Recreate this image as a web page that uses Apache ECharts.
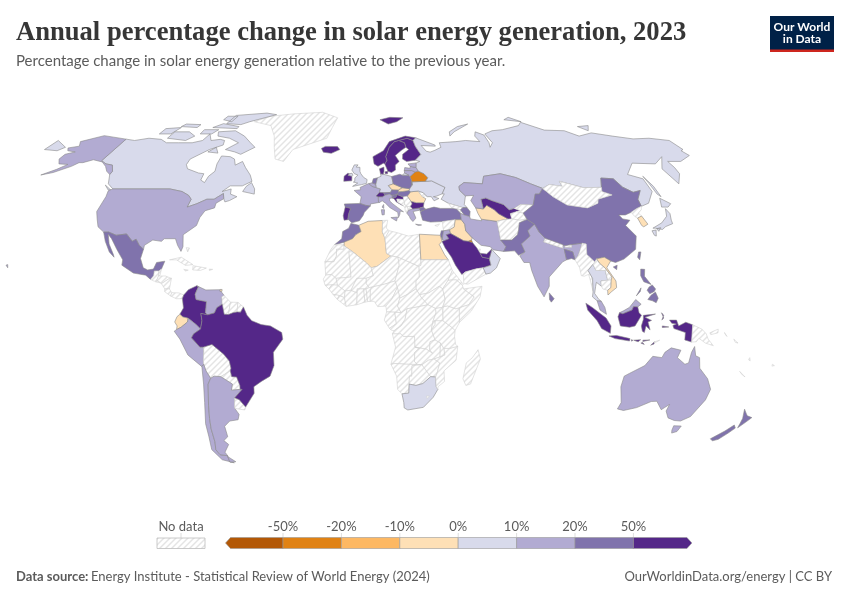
<!DOCTYPE html>
<html><head><meta charset="utf-8">
<script src="https://cdn.jsdelivr.net/npm/echarts@6/dist/echarts.min.js"></script>
<style>html,body{margin:0;padding:0;background:#fff}#c{width:850px;height:600px}</style></head>
<body><div id="c"></div>
<script>
const titleText = "Annual percentage change in solar energy generation, 2023";
const subtitleText = "Percentage change in solar energy generation relative to the previous year.";
const sourceLabel = "Data source:";
const sourceText = "Energy Institute - Statistical Review of World Energy (2024)";
const creditText = "OurWorldinData.org/energy | CC BY";
const binLimits = [-50,-20,-10,0,10,20,50];
const binLabels = ["-50%","-20%","-10%","0%","10%","20%","50%"];
const binColors = ["#b35806","#e08214","#fdb863","#fee0b6","#d8daeb","#b2abd2","#8073ac","#542788"];

// each value only needs to fall in the right bin
const deepPurple = ["Colombia","Brazil","Iceland","Norway","Sweden","Finland","Denmark","Ireland","Portugal","Switzerland","Croatia","Bulgaria","Saudi Arabia","United Arab Emirates","Uzbekistan","Indonesia"];
const deepPurpleValues = [62,58,60,55,70,64,52,66,54,58,60,75,90,55,120,68];
const midPurple = ["Mexico","Spain","Poland","Austria","Slovenia","Hungary","Netherlands","Turkey","Morocco","Azerbaijan","Pakistan","Sri Lanka","Bangladesh","Philippines","China","Taiwan","New Zealand","Israel"];
const midPurpleValues = [28,26,32,25,24,30,27,36,30,40,35,26,28,33,37,25,34,22];
const lightPurple = ["United States","Venezuela","Peru","Chile","Argentina","France","Belgium","Italy","Greece","Estonia","Latvia","Lithuania","Iran","Kazakhstan","India","Malaysia","Australia","Jordan"];
const lightPurpleValues = [14,15,12,16,18,13,11,15,12,17,14,16,13,19,16,12,15,11];
const palePurple = ["Canada","United Kingdom","Germany","Ukraine","Russia","Oman","Thailand","Japan","South Africa"];
const palePurpleValues = [7,5,4,2,9,6,8,5,3];
const paleOrange = ["Ecuador","Trinidad and Tobago","Czechia","Slovakia","Romania","Algeria","Egypt","Iraq","Turkmenistan","South Korea","Vietnam"];
const paleOrangeValues = [-4,-6,-3,-5,-8,-7,-2,-9,-3,-1,-4];
const orange = ["Belarus","Kuwait"];
const orangeValues = [-30,-25];

const outlines = {
"Greenland":["-73,78;-60,76;-54,71;-51,66;-48,61;-43,60;-40,65;-22,70;-20,75;-18,80;-30,83.5;-50,82.5;-65,81"],
"Canada":["-141,69.6;-135,69;-128,70;-120,69.5;-115,68;-108,68;-100,68;-95,69;-94,72;-90,69;-85,69.5;-82,69;-81,67;-87,65;-94,61;-94,58.7;-92,57;-85,55.3;-82,55;-82,52.5;-79.5,51.5;-79,54;-77,56;-78,59;-78,62.3;-73,62;-70,61;-68,58.5;-65,60;-62,57.5;-58,54.5;-56,52;-60,50.2;-66,50.2;-69,48;-65,49;-64.5,47;-61,46;-64,44.5;-66,44;-67,45.2;-68,47.2;-70,46;-71.5,45;-75,45;-79,43.3;-83,42;-82.5,45;-84.5,46.5;-88.5,48;-95,49;-123,49;-127,51;-130,54.7;-130,56;-133,58.5;-137,59;-141,60.3",
"-62,66;-68,63;-72,64;-78,65;-73,68;-80,70;-88,71;-90,73;-80,73.5;-72,71;-66,68","-117,70;-105,69;-102,71;-108,73;-117,73","-90,77;-80,76.5;-76,78;-62,82;-70,83;-90,81.5","-125,72;-118,72;-116,75;-125,74.5","-96,75;-80,74.5;-80,75.5;-92,77","-95,79;-88,78;-88,81;-95,81","-117,75.5;-106,75;-106,76.5;-116,76.8","-100,72;-93,72;-91,74;-100,74","-87,64;-81,63.5;-84,66","-59,48;-53,47;-53.5,49;-56,51.5;-58,50","-128,50.5;-123.5,48.5;-125,48.6"],
"United States":["-123,49;-95,49;-88.5,48;-84.5,46.5;-82.5,45;-83,42;-79,43.3;-75,45;-71.5,45;-70,46;-68,47.2;-67,45.2;-70,43.5;-70,41.7;-74,40.6;-75.5,38;-76,35;-81,31.5;-80,27;-80.5,25.2;-82.5,27.5;-84,30;-89,30;-90,29;-94,29.5;-97.2,27.5;-97.2,26;-99.5,27.5;-101.5,29.8;-103,29;-106.5,31.8;-111,31.3;-114.8,32.5;-117.1,32.5;-120.5,34.5;-122.5,37.5;-124.3,40.3;-124,46;-124.7,48.3",
"-141,69.6;-141,60.3;-137,59;-133,58.5;-130,56;-130,54.7;-133,56;-136,58;-140,59.8;-146,60.7;-150,59.5;-152,59.5;-154,58;-160,55.5;-165,54.5;-160,56.8;-157,58.8;-162,59;-165,61;-165,63;-161,64;-166,64.5;-168,65.7;-163,66.5;-166,68.5;-157,71.2;-150,70.5","-156,20;-155,19;-155.3,20.2"],
"Mexico":["-117.1,32.5;-114.8,32.5;-111,31.3;-106.5,31.8;-103,29;-101.5,29.8;-99.5,27.5;-97.2,26;-97.8,22.5;-96,19;-94,18.2;-91.5,18.5;-90.5,21;-87,21.5;-88,18.5;-89,17.8;-91,17.8;-91,16;-92.2,14.6;-94.5,16.2;-100,17;-105.5,20;-105.5,22;-109,26;-112.5,30;-114.7,31.7;-113,28;-110,24;-109.5,23;-112,25;-115,29"],
"Cuba":["-85,22;-80,23;-74.5,20.2;-77.7,19.9;-82,22"],
"Hispaniola":["-74.4,19.8;-68.5,18.9;-71,18;-74.4,18.2"],
"Jamaica":["-78.3,18.4;-76.3,18.1;-77.5,17.8"],
"Puerto Rico":["-67.2,18.5;-65.7,18.4;-67.1,18"],
"Bahamas":["-78.5,26.6;-77,26.5;-77.5,25"],
"Guatemala":["-92.2,14.6;-91,16;-91,17.8;-89,17.8;-88.9,15.9;-89.5,14.3;-90.5,13.9"],
"Belize":["-89,17.8;-88,18.5;-88.3,16.2;-88.9,15.9"],
"Honduras":["-88.9,15.9;-86,15.9;-83.2,15;-84.5,14.7;-87.3,13;-87.8,13.3;-89.5,14.3"],
"El Salvador":["-89.5,14.3;-87.8,13.3;-90.1,13.7"],
"Nicaragua":["-83.2,15;-83.7,11;-85.7,11;-87.3,13;-84.5,14.7"],
"Costa Rica":["-83.7,11;-82.6,9.6;-83,8.3;-85.7,10;-85.7,11"],
"Panama":["-82.6,9.6;-79.5,9.5;-77.4,8.7;-77.9,7.3;-80.5,7.3;-83,8.3"],
"Colombia":["-77.4,8.7;-75.5,10.7;-72,12.2;-71.3,11.8;-72.5,9;-72,7;-67.5,6.2;-67.8,2;-66.9,1.2;-69.8,1.7;-69.3,-1;-70,-4.2;-72,-2.4;-75.2,-0.1;-77.5,0.4;-78.8,1.4;-77.3,3.8;-77.9,7.3"],
"Venezuela":["-71.3,11.8;-72,12.2;-68,10.6;-62,10.7;-60,8.5;-61,8;-60.7,5.2;-63,3.9;-64,1.9;-66.9,1.2;-67.8,2;-67.5,6.2;-72,7;-72.5,9"],
"Trinidad and Tobago":["-61.9,10.1;-61,10.1;-61,10.8;-61.9,10.8"],
"Guyana":["-60,8.5;-57.2,6;-58,1.3;-59.8,1.4;-60.7,5.2;-61,8"],
"Suriname":["-57.2,6;-54,5.9;-54.3,2.3;-56,2;-58,1.3"],
"French Guiana":["-54,5.9;-51.6,4.2;-52.8,2.2;-54.3,2.3"],
"Ecuador":["-78.8,1.4;-77.5,0.4;-75.2,-0.1;-75.5,-1.5;-78.3,-3.5;-80.3,-4.4;-80,-3;-81,-1.5;-80,0.5"],
"Peru":["-80.3,-4.4;-78.3,-3.5;-75.5,-1.5;-75.2,-0.1;-72,-2.4;-70,-4.2;-73,-6;-74,-7.5;-70.6,-11;-69,-11;-69,-12.5;-69.5,-16;-69.5,-17.5;-70.4,-18.4;-76,-14;-79,-8;-81.3,-5"],
"Bolivia":["-69,-11;-65.3,-10;-60.5,-13.7;-58.3,-16.3;-57.8,-19;-58.2,-20;-62.6,-22.2;-65.5,-22;-67.1,-22.8;-68.8,-20;-69.5,-17.5;-69.5,-16;-69,-12.5"],
"Paraguay":["-58.2,-20;-57.8,-22.2;-55.7,-22.3;-54.6,-25.5;-54.7,-27;-58.6,-27.3;-57.8,-25;-62.6,-22.2"],
"Chile":["-70.4,-18.4;-69.5,-17.5;-68.8,-20;-67.1,-22.8;-68.5,-25;-70,-33;-71,-38;-71.7,-42;-72,-47;-73,-50;-72,-52;-68.4,-52.4;-68.6,-54.9;-66.5,-55.2;-72,-54;-75,-50;-74,-45;-73.5,-40;-71.5,-32;-70.5,-25"],
"Argentina":["-67.1,-22.8;-65.5,-22;-62.6,-22.2;-57.8,-25;-58.6,-27.3;-54.7,-27;-53.8,-27;-57.6,-30.2;-58.4,-33.5;-58.4,-34.2;-57,-36.5;-58,-38.5;-62,-39;-65,-41;-65,-45;-67.5,-46.5;-65.8,-48;-69,-51;-68.4,-52.4;-72,-52;-73,-50;-72,-47;-71.7,-42;-71,-38;-70,-33;-68.5,-25","-68.6,-52.7;-68.6,-54.9;-65.5,-54.8"],
"Uruguay":["-57.6,-30.2;-58.4,-33.5;-58.4,-34.2;-54,-34.8;-53.4,-33.7;-55.7,-30.9"],
"Brazil":["-60.7,5.2;-59.8,1.4;-58,1.3;-56,2;-54.3,2.3;-52.8,2.2;-51.6,4.2;-50,1;-48,-1;-44,-2.5;-40,-3;-35.2,-5.5;-34.8,-8;-39,-13;-39,-18;-41,-22;-45,-24;-48.5,-26;-48.7,-28.5;-53.4,-33.7;-55.7,-30.9;-57.6,-30.2;-53.8,-27;-54.7,-27;-54.6,-25.5;-55.7,-22.3;-57.8,-22.2;-58.2,-20;-57.8,-19;-58.3,-16.3;-60.5,-13.7;-65.3,-10;-69,-11;-70.6,-11;-74,-7.5;-73,-6;-70,-4.2;-69.3,-1;-69.8,1.7;-66.9,1.2;-64,1.9;-63,3.9"],
"Iceland":["-24,65.5;-22,66.4;-15,66.3;-13.5,65;-18,63.4;-22.5,63.9"],
"Ireland":["-10,52;-10,54;-8.2,55.2;-7.3,55;-8,54.4;-6,54;-6,52.2"],
"United Kingdom":["-5.5,50;-1,50.7;1.4,51.2;1.7,52.7;0,53.5;-1.5,55;-2,56;-2,57.6;-4,57.7;-3,58.6;-5,58.6;-6.2,56.5;-4.8,55;-3,54.5;-4.5,53.3;-4.5,52;-5.2,51.7;-3,51.3","-8,54.4;-7.3,55;-6,55.2;-5.5,54.4;-6,54"],
"France":["-1.8,43.4;-1.2,46;-4.7,48.4;-1.5,48.7;-1.8,49.6;1.5,50.8;2.5,51.1;4.2,50;6.2,49.5;8.2,49;7.6,47.6;6,46.3;7,45.9;7,44;7.5,43.8;3.2,43.2;3.1,42.4;0.7,42.7","8.6,42;9.4,43;9.4,41.5"],
"Spain":["-9.2,43.2;-1.8,43.4;0.7,42.7;3.1,42.4;0.3,40;-0.3,38.8;-2,36.8;-5.5,36;-6.9,37.2;-7.4,37.2;-7,39.5;-6.2,41.5;-8.7,42"],
"Portugal":["-8.7,42;-6.2,41.5;-7,39.5;-7.4,37.2;-9,37;-9.5,38.7"],
"Belgium":["2.5,51.1;4.2,51.4;6,50.8;6.2,49.5;4.2,50"],
"Netherlands":["4.2,51.4;4.8,53;7,53.4;6,50.8"],
"Germany":["6,50.8;7,53.4;8.8,54;8.6,55;10,54.8;14.2,53.9;14.7,51;12.2,50.3;13.8,48.7;13,47.6;9.6,47.5;7.6,47.6;8.2,49;6.2,49.5"],
"Denmark":["8.6,55;8.2,57;10.6,57.7;10.5,56;10,54.8","11,55.8;12.5,56;12.2,55;11,55"],
"Switzerland":["6,46.3;7.6,47.6;9.6,47.5;10.4,46.6;9,45.9;7,45.9"],
"Austria":["9.6,47.5;13,47.6;13.8,48.7;16.9,48.6;16.9,47.7;16.2,46.8;13.7,46.5;12.3,47;10.4,46.6"],
"Italy":["7,44;7,45.9;9,45.9;10.4,46.6;12.3,47;13.7,46.5;13.7,45.5;12.3,45.3;12.4,44.3;13.8,43.2;16,41.8;18.5,40.2;17,40.5;16.7,39.2;16,38;15.8,40;12.3,41.8;10.3,43.5;8.8,44.4;7.5,43.8","12.5,38;15.6,38.2;15,36.7","8.2,41;9.7,41;9.5,39.1;8.5,39"],
"Slovenia":["13.7,46.5;16.2,46.8;15.5,45.8;13.7,45.5"],
"Croatia":["13.7,45.5;15.5,45.8;16.2,46.8;19,45.9;19,44.9;15.8,45.1;16,44;18,43;18.5,42.5;15.5,44;14.5,45.2"],
"Bosnia":["15.8,45.1;19,44.9;19.4,44;19.3,43;18.5,42.5;18,43;16,44"],
"Hungary":["16.2,46.8;16.9,47.7;17,48;18.8,48;22.1,48.4;22.9,47.9;21,46.2;19,45.9"],
"Slovakia":["16.9,48.6;17,48;18.8,48;22.1,48.4;22.6,49.1;19,49.5"],
"Czechia":["12.2,50.3;14.7,51;19,49.5;16.9,48.6;13.8,48.7"],
"Poland":["14.2,53.9;18.5,54.8;19.7,54.4;23,54.4;23.5,53.9;24,52.5;24,50.5;22.6,49.1;19,49.5;14.7,51"],
"Serbia":["19,45.9;21,46.2;22.5,44.2;22.9,43.2;22,42.3;20.5,42.2;19.3,43;19.4,44;19,44.9"],
"Montenegro":["18.5,42.5;19.3,43;20.5,42.2;19.3,41.9"],
"Albania":["19.3,41.9;20.5,42.2;21,40.8;20,39.7;19.4,40.5"],
"North Macedonia":["20.5,42.2;22,42.3;22.9,41.3;21,40.8"],
"Greece":["20,39.7;21,40.8;22.9,41.3;26.3,41.7;26,40.8;23,40.3;24,37.8;22.5,36.5;21.5,37.5;21,38.5","23.6,35.5;26.3,35.2;24.8,35"],
"Bulgaria":["22.9,43.2;22.5,44.2;25,43.7;28.6,43.7;28,42;26.3,41.7;22.9,41.3;22,42.3"],
"Romania":["21,46.2;22.9,47.9;26.6,48.2;28.2,46;29.7,45.2;28.6,43.7;25,43.7;22.5,44.2"],
"Moldova":["26.6,48.2;29,47.5;30,46.4;28.2,46"],
"Ukraine":["22.6,49.1;24,50.5;24,51.8;31,52;34,52.2;40,49.6;38,47.1;35,46.2;33.5,46;36,45.3;33.5,44.4;32.5,46;30.5,46;30,46.4;29,47.5;26.6,48.2;22.9,47.9;22.1,48.4"],
"Belarus":["24,52.5;23.5,53.9;26.5,55.7;28.2,56.1;30.9,55;32.5,53.4;31,52;24,51.8;24,50.5"],
"Lithuania":["21,55.3;21,56.3;25,56.3;26.5,55.7;23.5,53.9;23,54.4"],
"Latvia":["21,56.3;21.5,57.5;24.3,57.2;24.4,58;27.5,57.5;28.2,56.1;26.5,55.7;25,56.3"],
"Estonia":["23.5,59;28,59.4;27.5,57.5;24.4,58"],
"Finland":["21,61;21.5,63;25.3,65;24,66;23.7,68;20.5,69;25.8,70;29,69;29.5,66.5;31.5,62.9;27.8,60.5;23,60"],
"Sweden":["11.2,59;12.5,56;14.3,55.5;16.5,56.5;16.7,58.5;19,60;17.3,62.5;21,64.6;24,66;23.7,68;20.5,69;18,68.5;14.5,66;12,62;12.5,60.5"],
"Norway":["5,62;5.5,59;7.5,58;10.5,59.3;11.2,59;12.5,60.5;12,62;14.5,66;18,68.5;20.5,69;25.8,70;29,69;31,70.2;25,71;15,68.5;11,64.5","11,79;16,76.8;22,78;27,80;18,80.3"],
"Russia":["27.8,60.5;31.5,62.9;29.5,66.5;29,69;31,70.2;41,67;41,66.5;33,66.8;35,64.3;37,63.9;40,64.7;44,66;44,68;54,68.5;60,69;68,68.5;67,71;69,73;73,71.5;73,68;72,66;75,68;74,72;80,73.5;87,74;100,76;104,77.7;113,73.8;125,73.5;130,71;140,72.5;150,71;160,69.7;170,70;180,69;180,65;178,64.5;179,62.5;170,60;163,60;163,57.5;162,55;156.7,51;155.7,57;163,62;155,59;143,59.3;135,54.7;141,53;140.5,48;135,43.5;130.7,42.3;131,45;135,48.4;131,47.7;127.5,49.7;126,53;120,53.3;117,49.6;108,49.5;98,52;98,50;92,50.7;87.8,49.2;83,51;77,53.5;70,55;61,54;59,51;50,51.5;47,50;46.8,48.5;49,46.3;47.5,43;48.5,41.8;46.5,41.8;40,43.5;37,45;39,47.1;38,47.1;40,49.6;34,52.2;31,52;32.5,53.4;30.9,55;28.2,56.1;27.5,57.5;28,59.4;30,60","-180,69;-170,66;-172,64.5;-180,65","142,54;143,50;143,46;142,47;142,51","52,71;56,73;68,76.8;60,75.5;53,73","95,79;105,78;100,80.3","137,75.5;145,76;140,73.5","19.7,54.4;21,55.3;23,54.4"],
"Georgia":["40,43.5;46.5,41.8;45.2,41;43.5,41.2;41.5,41.5"],
"Armenia":["43.5,41.2;45.2,41;46.5,39;45,39.3;44.8,39.7"],
"Azerbaijan":["45.2,41;46.5,41.8;48.5,41.8;49.5,40.3;48.9,38.4;46.5,39"],
"Turkey":["26.3,40;27,37;30.5,36.3;36,36.5;36.5,36.8;42,37.2;44.8,37.2;44.8,39.7;43.5,41.2;41.5,41.5;36,41.5;33,42;29,41.2;27,40.5","26.3,41.7;28,42;29,41.2;26.2,40.3"],
"Cyprus":["32.3,35;34.5,35.6;33.5,34.7"],
"Syria":["36,36.5;36.5,36.8;42,37.2;41,34.4;38.8,33.4;36,33;35.9,35"],
"Israel":["34.3,31.3;35,33;36,33;35.5,31.5;35,29.6"],
"Jordan":["35,29.6;35.5,31.5;36,33;38.8,33.4;39,32;37,31.5;38,30;36,29.3"],
"Iraq":["38.8,33.4;41,34.4;42,37.2;44.8,37.2;46,35.5;46,33;48.5,30.3;48,29.5;46.5,29;44.5,29.2;39,32"],
"Kuwait":["46.5,29;48,29.5;48.4,28.5;46.5,28.7"],
"Saudi Arabia":["34.8,29;36,29.3;38,30;37,31.5;39,32;44.5,29.2;46.5,29;46.5,28.7;48.4,28.5;50,26.5;51.2,24.5;52,23;55,22.5;55.5,20;52,19;49,18.6;44,17.4;43.2,16.8;42.5,16.5;40,20;38.5,23;36,26.5"],
"Yemen":["43.2,13;43.2,16.8;44,17.4;49,18.6;52,19;53,16.6;45,12.8"],
"Oman":["52,19;55.5,20;55,22.5;56,24.8;56.4,26;59.8,22.5;57.8,19;55,17;53,16.6"],
"United Arab Emirates":["51.2,24.5;52,23;55,22.5;56,24.8;56.4,26;54,24.2"],
"Qatar":["51,25;51.5,26.1;50.8,26"],
"Iran":["44.8,39.7;46.5,39;48.9,38.4;49,37.5;54,36.8;54,37.4;61,36.6;61,31.5;61,29.5;63,27;61.6,25.2;57,25.8;56,27;52,27.5;48.5,30.3;46,33;46,35.5;44.8,37.2"],
"Turkmenistan":["52.5,41.7;56,41.3;58,42.7;61,41;62.5,39.5;66.5,37.4;64.5,37.2;61,36.6;54,37.4;53,39.5"],
"Uzbekistan":["56,45;56,41.3;58,42.7;61,41;62.5,39.5;66.5,37.4;68,37.5;68,39.5;71,40.2;73,40.7;70.5,41.5;68,41;66,43;61,44.5;58.5,45.5"],
"Kazakhstan":["46.8,48.5;47,50;50,51.5;59,51;61,54;70,55;77,53.5;83,51;87.8,49.2;85,47;83,47;80,42.8;74,43;70.5,41.5;68,41;66,43;61,44.5;58.5,45.5;56,45;56,41.3;52.5,41.7;51,44.5;53,46.5;49,46.3"],
"Kyrgyzstan":["70.5,41.5;74,43;80,42.8;74,39.7;71,40.2;73,40.7"],
"Tajikistan":["68,37.5;71.5,37;75,37.3;74,39.7;71,40.2;68,39.5"],
"Afghanistan":["61,36.6;64.5,37.2;66.5,37.4;68,37.5;71.5,37;75,37.3;71,36;70,33.5;69,31.5;66,29.5;61,29.5;61,31.5"],
"Pakistan":["61,29.5;66,29.5;69,31.5;70,33.5;71,36;75,37.3;77.8,35.5;74,33;74.5,31;70,28;71,25;68,23.7;66.5,25.4;61.6,25.2;63,27"],
"India":["77.8,35.5;79,32.5;81,30.2;80,28.8;88,26.4;88.2,27.8;88.9,27.3;89,26.8;92,26.8;92,27.8;97,28.3;95,25;94,23.5;92.5,22;92,25;88.5,26;88.8,22;87,21.3;80.3,15.5;80,12;77.5,8;75,12;73,18;72.5,21;70,21;68.5,23.5;71,25;70,28;74.5,31;74,33"],
"Nepal":["81,30.2;88.2,27.8;88,26.4;80,28.8"],
"Bhutan":["88.9,27.3;92,27.8;92,26.8;89,26.8"],
"Bangladesh":["88.5,26;92,25;92.5,22;91,22.5;88.8,22"],
"Sri Lanka":["79.8,9.5;81.8,7.3;80.5,6;79.8,7"],
"China":["74,39.7;80,42.8;83,47;85,47;87.8,49.2;91,46;96,42.8;105,41.7;111,43.5;112,45;120,46.7;116,48;117,49.6;120,53.3;126,53;127.5,49.7;131,47.7;135,48.4;131,45;130.7,42.3;128,41.5;124.3,40;121,39;118,39;119,37.5;122,37;119,35;122,31;120,26;114,22.3;110,21;108,21.6;105.5,23;102,22.4;101,21.2;98,24;98.7,28;97,28.3;92,27.8;88.9,27.3;88.2,27.8;81,30.2;79,32.5;77.8,35.5;75,37.3","108.7,19.3;110.5,20;110,18.3"],
"Mongolia":["87.8,49.2;92,50.7;98,50;98,52;108,49.5;117,49.6;116,48;120,46.7;112,45;111,43.5;105,41.7;96,42.8;91,46"],
"North Korea":["124.3,40;128,41.5;130.7,42.3;129.7,41;127.5,39.7;128.3,38.6;126,37.8;125,38.5"],
"South Korea":["126,37.8;128.3,38.6;129.4,35.5;127,34.5;126.3,35"],
"Japan":["130.9,34;136,36;139.8,38.5;141.3,41.4;142,39.5;141,37;140.8,35.7;137,34.6;135,33.5;132,34","140,42;141.8,45.4;145.3,43.3;143,42","130,33;132,33.3;131,31;130.3,31.3","132.5,33.8;134.5,34.2;133,32.8"],
"Taiwan":["121,25;122,25;120.8,22;120.1,23"],
"Myanmar":["92.5,22;94,23.5;95,25;97,28.3;98.7,28;98,24;101,21.2;100,20.3;97.5,18;99,15;98.7,10;98,14;97.5,16.5;95.5,15.8;94.3,16;94,19"],
"Thailand":["97.5,18;100,20.3;101,18;105,18;105.5,14.3;102.5,14;102.5,12;100.5,13.5;100,12;99.3,9.3;101,7;102,6.3;100.2,6.5;98.3,8;98.7,10;99,15"],
"Laos":["101,21.2;102,22.4;103,20.7;105,19;107.5,15.5;107,14.4;105.5,14.3;105,18;101,18;100,20.3"],
"Cambodia":["102.5,14;105.5,14.3;107,14.4;106.5,11.5;105,10.5;103,11;102.5,12"],
"Vietnam":["102,22.4;105.5,23;108,21.6;105.8,19;109,14;109,11.5;106.7,10;105,8.7;105,10.5;106.5,11.5;107,14.4;107.5,15.5;105,19;103,20.7"],
"Malaysia":["100.2,6.5;102,6.3;103.4,4;104,1.4;101.3,3","109.6,2;111,1.6;115,3;115.7,4.3;117.5,4.2;119,5.2;116.8,7;113.9,4;111.3,2.7"],
"Indonesia":["95.3,5.6;98,4;103.8,0;106,-3;105.8,-5.8;102,-4;100,-1;96,3","105.3,-6.8;108.5,-6.6;114.4,-7.8;114.3,-8.7;108,-7.8","108.9,0.5;109.6,2;111,1.6;115,3;115.7,4.3;117.5,4.2;118,2;119,1;116.3,-3;114,-3.5;110,-3","119.8,1;125,1.5;120.5,0.3;123.3,-0.9;121.8,-1.5;122.8,-4.5;121,-3;120.4,-5.5;119.5,-5;119,-3;119.8,-0.5","131,-0.8;134,-0.8;135,-3;138,-1.6;141,-2.6;141,-9.1;138,-8.3;138,-5.5;133,-4;132.5,-2.8;134,-2.3;132,-2","116,-8.4;119,-8.2;118,-9","120,-8.4;123,-8.3;120,-8.9","123.5,-10.3;125,-9;124.9,-9.8","119.2,-9.5;120.7,-10;120,-9.3","128,-3;130.8,-3.4;128,-3.6","127.6,2;128.5,1;127.7,-0.8;128.5,0","115,-8.2;115.7,-8.4;115.2,-8.8"],
"Timor-Leste":["125,-9;127.2,-8.4;125,-9.5"],
"Papua New Guinea":["141,-2.6;145,-4.2;147,-6;148,-8;150.5,-10.5;147,-9.5;144,-7.7;143,-9;141,-9.1","148.5,-5.6;152,-4.2;152,-5.6;149,-6.3","155,-6;156,-7;154.8,-5.5"],
"Solomon Islands":["159,-8;161,-9.5;159.8,-9.2"],
"New Caledonia":["164,-20.2;167,-22.3;165.5,-21.5"],
"Vanuatu":["167,-15;167.5,-16.2;166.7,-15.8"],
"Fiji":["177.5,-17.5;178.5,-18;177.5,-18.2"],
"Philippines":["120.5,18.5;122.2,18.4;121.6,15.8;124,12.7;121,13.7;120,16","122,7;123.5,8.6;125.5,9.8;126.5,7.5;125.5,5.8;124,6.5","124.5,12.5;125.7,11;125,10;123,9.2;122,10.5;123,11.7","117.2,8.4;119.5,11.4;119,10"],
"Australia":["114,-22;113.5,-26;115.7,-32;115,-34.4;118,-35;123.5,-33.9;129,-31.6;131.5,-31.5;135,-34.7;136,-34;137.8,-32.7;137.5,-35.2;140,-37.8;143.5,-38.8;146.5,-39;150,-37.3;153,-31;153.5,-27;150.8,-23;146.3,-19;145.3,-15;143.5,-14.3;142.5,-10.8;141.5,-13;141,-17;139.5,-17.5;135.7,-15;136.8,-12.2;132.5,-11.3;130,-13;129,-15;125,-14.5;122.2,-18;116,-21","144.7,-40.8;148.3,-40.9;148,-43;146,-43.6;145.2,-42.5"],
"New Zealand":["172.7,-34.5;174.5,-36;175.8,-37;178.5,-37.7;177,-39.5;175.3,-41.6;174.8,-39.8;174.5,-38","172.7,-40.5;174.3,-41.7;172.8,-43.6;170.5,-46;168.3,-46.6;166.5,-45.8;170.5,-42.8"],
"Morocco":["-5.9,35.8;-2.2,35.1;-1.2,32.7;-3.6,31.5;-5,30;-8.7,28.7;-13,27.7;-9.8,30;-9.5,32.7;-6.8,34"],
"Western Sahara":["-13,27.7;-8.7,27.7;-8.7,26;-12,26;-12,23.4;-13,21.3;-17,21.3;-14.5,26"],
"Algeria":["-2.2,35.1;2,36.6;8.6,36.9;8.4,32.5;9.5,30.2;10,24.5;12,23.5;5.8,19.5;3.2,19;1.2,20.8;-4.8,25;-8.7,27.3;-8.7,28.7;-5,30;-3.6,31.5;-1.2,32.7"],
"Tunisia":["8.6,36.9;11,37;10.2,34;11.5,33;9.5,30.2;8.4,32.5"],
"Libya":["11.5,33;15,32.3;20,31;25,31.7;25,20;24,19.5;15,23;12,23.5;10,24.5;9.5,30.2"],
"Egypt":["25,31.7;34.3,31.3;34.8,29;33.5,27.8;35.5,24;37,22;25,22"],
"Sudan":["24,19.5;25,20;25,22;37,22;38.5,18;36.5,14.3;34,11;32.5,12;28,9.5;24,8.8;22.5,11;22.5,14;24,15.5"],
"South Sudan":["24,8.8;28,9.5;32.5,12;34,11;35,7;33.7,4;30.8,3.6;27.5,5;24.5,8"],
"Mauritania":["-17,21.3;-13,21.3;-12,23.4;-12,26;-8.7,26;-8.7,27.3;-4.8,25;-6.5,25;-5.5,15.5;-12,15;-14,16.5;-16.5,16.2"],
"Mali":["-4.8,25;1.2,20.8;3.2,19;4.2,16;1,15;-3,15;-5.5,10.5;-8,10.2;-11.4,12.4;-12,15;-5.5,15.5;-6.5,25"],
"Niger":["5.8,19.5;12,23.5;15,23;15.5,20;13.5,14;9,12.8;3.6,11.7;2.4,11.5;1,13;1,15;4.2,16;3.2,19"],
"Chad":["15,23;24,19.5;24,15.5;22.5,14;22.5,11;19,9;15.5,7.5;14.5,11.5;13.5,14;15.5,20"],
"Nigeria":["2.7,6.3;2.8,11;3.6,11.7;9,12.8;13.5,14;14.5,11.5;12,7;9.5,4.5;6,4.3;4.5,6.3"],
"Senegal":["-17.5,14.7;-16.5,16.2;-14,16.5;-12,15;-11.4,12.4;-16.7,12.4"],
"Guinea-Bissau":["-16.7,12.4;-13.7,12.6;-15,11"],
"Guinea":["-15,11;-13.7,12.6;-11.4,12.4;-8,10.2;-8.3,7.7;-10.5,8.5;-13.3,9"],
"Sierra Leone":["-13.3,9;-10.5,8.5;-11.3,7"],
"Liberia":["-11.3,7;-10.5,8.5;-8.3,7.7;-7.5,4.4"],
"Ivory Coast":["-8.3,7.7;-8,10.2;-5.5,10.5;-2.8,9.5;-3,5;-7.5,4.4"],
"Burkina Faso":["-5.5,10.5;-3,15;1,15;1,13;2.4,11.5;1,11;0,11;-2.8,11;-2.8,9.5"],
"Ghana":["-2.8,9.5;-2.8,11;0,11;0.5,6;-3,5"],
"Togo":["0,11;1,11;1.7,6.2;0.5,6"],
"Benin":["1,11;2.4,11.5;3.6,11.7;2.8,11;2.7,6.3;1.7,6.2"],
"Cameroon":["9.5,4.5;12,7;14.5,11.5;15.5,7.5;14.5,4.5;16,2;13.3,2.2;9.8,2.3"],
"Central African Republic":["15.5,7.5;19,9;22.5,11;24,8.8;24.5,8;27.5,5;22,4;18.6,3.5;16,2;14.5,4.5"],
"Gabon":["9.8,2.3;13.3,2.2;14,-2.2;11,-3.9;8.8,-0.8"],
"Congo":["13.3,2.2;16,2;18.6,3.5;17.7,-0.5;16,-3;13,-4.8;11.8,-4.6;11,-3.9;14,-2.2"],
"Democratic Republic of Congo":["18.6,3.5;22,4;27.5,5;30.8,3.6;31,2;29.6,-1.4;29,-4.5;30.7,-8.3;28.5,-9;28.4,-12;29.8,-13.4;27,-11.8;22,-11;21.8,-7;17,-7;16,-6;12.3,-6;13,-4.8;16,-3;17.7,-0.5"],
"Angola":["12.3,-6;16,-6;17,-7;21.8,-7;22,-11;24,-11.5;22,-13;22,-16.5;23.4,-17.6;18.5,-17.5;13.5,-17.2;11.8,-17.5;13.7,-11"],
"Zambia":["22,-11;27,-11.8;29.8,-13.4;28.4,-12;28.5,-9;30.7,-8.3;33,-9.4;33,-12.5;33,-14.7;30.5,-15.5;28,-16;25.3,-17.7;23.4,-17.6;22,-16.5;22,-13;24,-11.5"],
"Namibia":["11.8,-17.5;13.5,-17.2;18.5,-17.5;23.4,-17.6;25.3,-17.7;21,-18;21,-22;20,-22;20,-28.4;17,-28.7;15,-27;14.4,-22"],
"Botswana":["21,-18;25.3,-17.7;29.3,-22.2;26,-24.8;23,-25.5;20,-25;20,-22;21,-22"],
"Zimbabwe":["25.3,-17.7;28,-16;30.5,-15.5;33,-17;32,-21;31.5,-22.3;29.3,-22.2"],
"South Africa":["17,-28.7;20,-28.4;20,-25;23,-25.5;26,-24.8;29.3,-22.2;31.5,-22.3;32,-26;32.8,-27;31,-30;27,-33.8;20,-34.8;18.3,-34;18,-32"],
"Lesotho":["28,-29.5;29.3,-29.6;28.2,-30.5"],
"Mozambique":["32,-26;32.8,-27;32.8,-26;35.5,-24;35,-20;40,-16;40.5,-10.7;37,-11.5;34.5,-11.5;35,-14;33,-14.7;30.5,-15.5;33,-17;32,-21;31.5,-22.3"],
"Malawi":["33,-9.4;34.5,-11.5;35,-14;33,-14.7;33,-12.5"],
"Tanzania":["30.7,-8.3;29,-4.5;30.5,-2.4;30.5,-1;33.9,-1;37.7,-3.5;39.2,-4.7;39,-7;39.5,-10;40.5,-10.7;37,-11.5;34.5,-11.5;33,-9.4"],
"Kenya":["33.9,-1;34,4.2;35.9,4.6;39.5,3.5;41,3.9;41,-1.7;39.2,-4.7;37.7,-3.5"],
"Uganda":["30.8,3.6;33.7,4;34,4.2;33.9,-1;30.5,-1;29.6,-1.4;31,2"],
"Rwanda and Burundi":["29.6,-1.4;30.5,-1;30.5,-2.4;29,-4.5"],
"Ethiopia":["34,11;36.5,14.3;38,14.5;40,14.5;42.5,12.5;43,11;47.5,8;45,5;41,3.9;39.5,3.5;35.9,4.6;34,4.2;33.7,4;35,7"],
"Eritrea":["36.5,14.3;38.5,18;43,12.7;42.5,12.5;40,14.5;38,14.5"],
"Somalia":["43,11;51,12;50,8;46,2.5;41,-1.7;41,3.9;45,5;47.5,8"],
"Madagascar":["49.3,-12;50.5,-15.5;47,-25;45,-25.5;43.5,-23;44.5,-17;47,-15"]
};

// Robinson projection table (5 degree steps)
const plen = [1,0.9986,0.9954,0.99,0.9822,0.973,0.96,0.9427,0.9216,0.8962,0.8679,0.835,0.7986,0.7597,0.7186,0.6732,0.6213,0.5722,0.5322];
const pdfe = [0,0.062,0.124,0.186,0.248,0.31,0.372,0.434,0.4958,0.5571,0.6176,0.6769,0.7346,0.7903,0.8435,0.8936,0.9394,0.9761,1];
function look(t,a){const v=Math.min(Math.abs(a)/5,17.9999),i=Math.floor(v);return t[i]+(t[i+1]-t[i])*(v-i);}
const robinson = {
  project(p){return [p[0]*2.3333*look(plen,p[1]),-Math.sign(p[1])*213*look(pdfe,p[1])];},
  unproject(q){let la=0;const s=Math.abs(q[1])/213;for(let i=0;i<18;i++){if(s<=pdfe[i+1]){la=5*(i+(s-pdfe[i])/(pdfe[i+1]-pdfe[i]));break;}}
    la*=q[1]>0?-1:1;return [q[0]/(2.3333*look(plen,la)),la];}
};

const features = Object.keys(outlines).map(name=>({type:"Feature",properties:{name},
  geometry:{type:"MultiPolygon",coordinates:outlines[name].map(r=>{const ring=r.split(";").map(s=>s.split(",").map(Number));ring.push(ring[0]);return [ring];})}}));
echarts.registerMap("world",{type:"FeatureCollection",features});

function hatch(){
  const c=document.createElement("canvas");c.width=c.height=6;const g=c.getContext("2d");
  g.fillStyle="#fff";g.fillRect(0,0,6,6);g.strokeStyle="#e4e4e4";g.lineWidth=1.4;
  [[-6,6,6,-6],[0,6,6,0],[0,12,12,0]].forEach(l=>{g.beginPath();g.moveTo(l[0],l[1]);g.lineTo(l[2],l[3]);g.stroke();});
  return c;
}
const hatchFill={image:hatch(),repeat:"repeat"};

const groups=[[deepPurple,deepPurpleValues],[midPurple,midPurpleValues],[lightPurple,lightPurpleValues],[palePurple,palePurpleValues],[paleOrange,paleOrangeValues],[orange,orangeValues]];
const dataItems=[];
groups.forEach(g=>g[0].forEach((n,i)=>dataItems.push({name:n,value:g[1][i],itemStyle:{borderColor:"#8a8a8a",borderWidth:0.6}})));
const known=new Set(dataItems.map(d=>d.name));
Object.keys(outlines).filter(n=>!known.has(n)).forEach(n=>dataItems.push({name:n,value:NaN,itemStyle:{areaColor:hatchFill,color:hatchFill,borderColor:"#d2d2d2",borderWidth:0.6}}));

const pieces=binColors.map((color,i)=>{
  const p={color};
  if(i>0)p.gte=binLimits[i-1];
  if(i<binLimits.length)p.lt=binLimits[i];
  return p;
});

// legend
const legendLeft=283, segW=58.4, barTop=537.5, barH=11;
const legend=[];
binColors.forEach((c,i)=>{
  const x0=legendLeft+(i-1)*segW, x1=x0+segW, y0=barTop, y1=barTop+barH, ym=y0+barH/2;
  let pts=[[x0,y0],[x1,y0],[x1,y1],[x0,y1]];
  if(i===0)pts=[[x1-52.5,y0],[x1,y0],[x1,y1],[x1-52.5,y1],[x1-57.5,ym]];
  if(i===binColors.length-1)pts=[[x0,y0],[x0+53.5,y0],[x0+58.5,ym],[x0+53.5,y1],[x0,y1]];
  legend.push({type:"polygon",shape:{points:pts},style:{fill:c,stroke:"#999",lineWidth:0.6}});
});
binLabels.forEach((t,i)=>{
  const x=legendLeft+i*segW;
  legend.push({type:"text",x,y:527,style:{text:t,font:"13px Lato",fill:"#5b5b5b",align:"center",verticalAlign:"middle"}});
  legend.push({type:"line",shape:{x1:x,y1:533,x2:x,y2:barTop},style:{stroke:"#c8c8c8",lineWidth:0.6}});
});
legend.push({type:"rect",shape:{x:157,y:538,width:48,height:10.5},style:{fill:hatchFill,stroke:"#bdbdbd",lineWidth:0.8}});
legend.push({type:"line",shape:{x1:181,y1:533,x2:181,y2:538},style:{stroke:"#c8c8c8",lineWidth:0.6}});
legend.push({type:"text",x:181,y:527,style:{text:"No data",font:"13px Lato",fill:"#5b5b5b",align:"center",verticalAlign:"middle"}});

const chrome=[
 {type:"text",x:16,y:33,style:{text:titleText,font:"bold 26.6px 'Liberation Serif'",fill:"#363636",verticalAlign:"middle"}},
 {type:"text",x:16,y:61,style:{text:subtitleText,font:"15px Lato",fill:"#5b5b5b",verticalAlign:"middle"}},
 {type:"rect",shape:{x:770,y:16,width:64,height:36},style:{fill:"#002147"}},
 {type:"rect",shape:{x:770,y:49.5,width:64,height:2.5},style:{fill:"#ce261e"}},
 {type:"text",x:802,y:27,style:{text:"Our World",font:"bold 12px Lato",fill:"#fff",align:"center",verticalAlign:"middle"}},
 {type:"text",x:802,y:39,style:{text:"in Data",font:"bold 12px Lato",fill:"#fff",align:"center",verticalAlign:"middle"}},
 {type:"text",x:16,y:577,style:{text:sourceLabel,font:"bold 13px Lato",fill:"#5b5b5b",verticalAlign:"middle"}},
 {type:"text",x:91,y:577,style:{text:sourceText,font:"13px Lato",fill:"#5b5b5b",verticalAlign:"middle"}},
 {type:"text",x:832,y:577,style:{text:creditText,font:"13px Lato",fill:"#5b5b5b",align:"right",verticalAlign:"middle"}}
];

const chart=echarts.init(document.getElementById("c"),null,{renderer:"canvas"});
chart.setOption({
  animation:false,
  backgroundColor:"#fff",
  tooltip:{show:false},
  visualMap:{show:false,type:"piecewise",seriesIndex:0,pieces},
  series:[{
    type:"map",map:"world",projection:robinson,silent:true,roam:false,
    boundingCoords:[[-180,90],[180,-90]],
    aspectScale:1,
    layoutCenter:[456,318],layoutSize:656,
    label:{show:false},emphasis:{disabled:true},select:{disabled:true},
    itemStyle:{areaColor:hatchFill,color:hatchFill,borderColor:"#d2d2d2",borderWidth:0.6},
    data:dataItems
  }],
  graphic:{elements:chrome.concat(legend).map(e=>Object.assign({silent:true},e))}
});
</script>
</body></html>
